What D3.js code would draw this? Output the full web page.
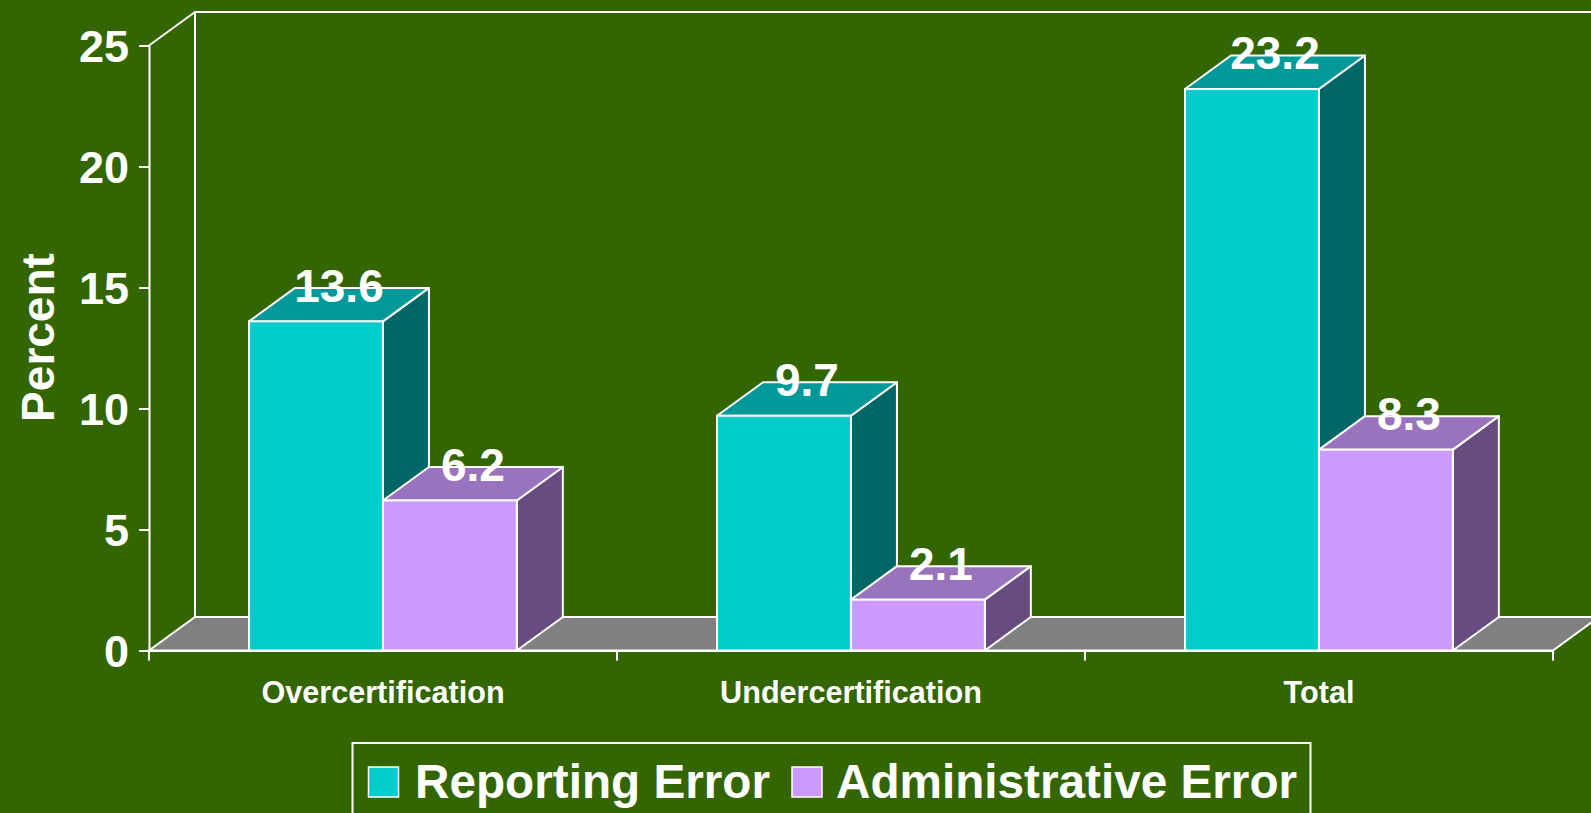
<!DOCTYPE html>
<html>
<head>
<meta charset="utf-8">
<script src="https://cdn.jsdelivr.net/npm/d3@7"></script>
<style>
  html, body { margin: 0; padding: 0; background: #336600; overflow: hidden; }
  svg { display: block; font-family: "Liberation Sans", Arial, sans-serif; font-weight: bold; }
</style>
</head>
<body>
<div id="chart"></div>
<script>
// data
const categories = ["Overcertification", "Undercertification", "Total"];
const series = ["Reporting Error", "Administrative Error"];
const reportingValues = [13.6, 9.7, 23.2];
const adminValues = [6.2, 2.1, 8.3];
const yTicks = [0, 5, 10, 15, 20, 25];

const colours = {
  "Reporting Error": { front: "#00cccc", top: "#009999", side: "#006666" },
  "Administrative Error": { front: "#cc99ff", top: "#9a73bf", side: "#664c80" }
};

const width = 1591, height = 813;
const margin = { left: 149, right: 38, top: 45.5, bottom: 162.5 };
const depth = { dx: 46, dy: 33.5 };

const svg = d3.select("#chart").append("svg")
  .attr("width", width)
  .attr("height", height);

const x0 = d3.scaleBand()
  .domain(categories)
  .range([margin.left, width - margin.right])
  .paddingInner(0)
  .paddingOuter(0);

// the two bars of a group sit together in the middle of each band
const x1 = d3.scaleBand()
  .domain(series)
  .range([x0.bandwidth() * 0.2137, x0.bandwidth() * 0.786]);

const y = d3.scaleLinear()
  .domain([0, 25])
  .range([height - margin.bottom, margin.top]);

const y0 = y(0);
const xl = x0.range()[0], xr = x0.range()[1];

// back wall lines
svg.append("path")
  .attr("d", `M${xl + depth.dx},${y0 - depth.dy}V${y(25) - depth.dy}H${width + 10}`)
  .attr("fill", "none")
  .attr("stroke", "#fff")
  .attr("stroke-width", 2);

// top diagonal of the wall
svg.append("line")
  .attr("x1", xl).attr("y1", y(25))
  .attr("x2", xl + depth.dx).attr("y2", y(25) - depth.dy)
  .attr("stroke", "#fff")
  .attr("stroke-width", 2);

// floor
svg.append("path")
  .attr("d", `M${xl},${y0}L${xr},${y0}L${xr + depth.dx},${y0 - depth.dy}L${xl + depth.dx},${y0 - depth.dy}Z`)
  .attr("fill", "#808080")
  .attr("stroke", "#fff")
  .attr("stroke-width", 2);

// y axis
const yAxis = d3.axisLeft(y)
  .tickValues(yTicks)
  .tickSize(10)
  .tickSizeOuter(0)
  .tickPadding(10);

const yAxisGroup = svg.append("g")
  .attr("transform", `translate(${xl},0)`)
  .call(yAxis);
yAxisGroup.select(".domain").attr("stroke", "#fff").attr("stroke-width", 2);
yAxisGroup.selectAll(".tick line").attr("stroke", "#fff").attr("stroke-width", 2);
yAxisGroup.selectAll(".tick text")
  .attr("fill", "#fff")
  .style("font-size", "45px")
  .style("font-weight", "bold")
  .attr("dy", "0.36em");

// y axis label
svg.append("text")
  .attr("transform", `translate(54,337.5) rotate(-90)`)
  .attr("text-anchor", "middle")
  .attr("fill", "#fff")
  .style("font-size", "46px")
  .text("Percent");

// x axis line + ticks at band boundaries
const xAxis = d3.axisBottom(x0).tickSize(0).tickPadding(0).tickSizeOuter(0);
const xAxisGroup = svg.append("g")
  .attr("transform", `translate(0,${y0})`)
  .call(xAxis);
xAxisGroup.select(".domain").attr("stroke", "#fff").attr("stroke-width", 2);
xAxisGroup.selectAll(".tick text")
  .attr("fill", "#fff")
  .attr("y", 52)
  .attr("dy", 0)
  .style("font-size", "30.6px")
  .style("font-weight", "bold");

const boundaries = categories.map(c => x0(c)).concat([x0(categories[categories.length - 1]) + x0.bandwidth()]);
xAxisGroup.selectAll(".bound")
  .data(boundaries)
  .join("line")
  .attr("class", "bound")
  .attr("x1", d => d).attr("x2", d => d)
  .attr("y1", 0).attr("y2", 10)
  .attr("stroke", "#fff")
  .attr("stroke-width", 2);

// bars
const barData = [];
categories.forEach((c, i) => {
  barData.push({ cat: c, key: series[0], value: reportingValues[i] });
  barData.push({ cat: c, key: series[1], value: adminValues[i] });
});

const bars = svg.append("g").selectAll("g.bar")
  .data(barData)
  .join("g")
  .attr("class", "bar");

bars.each(function (d) {
  const g = d3.select(this);
  const bx = x0(d.cat) + x1(d.key);
  const bw = x1.bandwidth();
  const by = y(d.value);
  const c = colours[d.key];
  const { dx, dy } = depth;

  // side face
  g.append("path")
    .attr("d", `M${bx + bw},${y0}L${bx + bw},${by}L${bx + bw + dx},${by - dy}L${bx + bw + dx},${y0 - dy}Z`)
    .attr("fill", c.side)
    .attr("stroke", "#fff")
    .attr("stroke-width", 2)
    .attr("stroke-linejoin", "round");

  // top face
  g.append("path")
    .attr("d", `M${bx},${by}L${bx + dx},${by - dy}L${bx + bw + dx},${by - dy}L${bx + bw},${by}Z`)
    .attr("fill", c.top)
    .attr("stroke", "#fff")
    .attr("stroke-width", 2)
    .attr("stroke-linejoin", "round");

  // front face
  g.append("rect")
    .attr("x", bx)
    .attr("y", by)
    .attr("width", bw)
    .attr("height", y0 - by)
    .attr("fill", c.front)
    .attr("stroke", "#fff")
    .attr("stroke-width", 2);

  // value label
  g.append("text")
    .attr("x", bx + bw / 2 + dx / 2)
    .attr("y", by - dy / 2 - 3)
    .attr("text-anchor", "middle")
    .attr("fill", "#fff")
    .style("font-size", "46px")
    .text(d3.format(".1f")(d.value));
});

// legend
const legend = svg.append("g");
legend.append("rect")
  .attr("x", 352.5)
  .attr("y", 743)
  .attr("width", 958)
  .attr("height", 100)
  .attr("fill", "none")
  .attr("stroke", "#fff")
  .attr("stroke-width", 2);

const legendItems = [
  { key: series[0], sx: 368.5, tx: 415 },
  { key: series[1], sx: 792, tx: 836 }
];
legendItems.forEach(it => {
  legend.append("rect")
    .attr("x", it.sx)
    .attr("y", 767)
    .attr("width", 30)
    .attr("height", 30)
    .attr("fill", colours[it.key].front)
    .attr("stroke", "#fff")
    .attr("stroke-width", 1.5);
  legend.append("text")
    .attr("x", it.tx)
    .attr("y", 798)
    .attr("fill", "#fff")
    .style("font-size", "47.7px")
    .text(it.key);
});
</script>
</body>
</html>
